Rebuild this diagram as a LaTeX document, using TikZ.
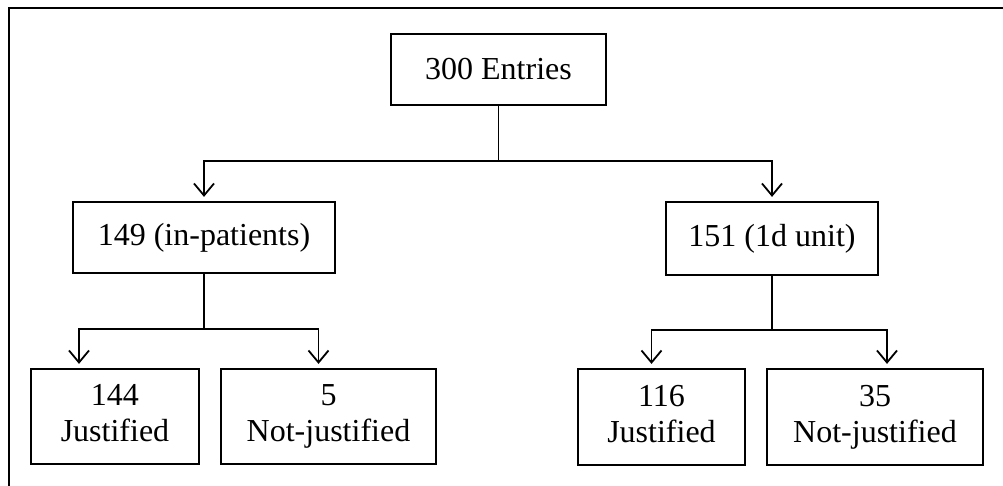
\documentclass[tikz,border=0pt]{standalone}
\usepackage{fontspec}
\setmainfont{Liberation Serif}
\usepackage{tikz}
\usetikzlibrary{arrows.meta}

\tikzset{
    box/.style={draw, line width=1.1pt, inner sep=0pt, align=center, font=\fontsize{16}{18}\selectfont},
    link/.style={line width=0.9pt, -{Straight Barb[length=6pt,width=10pt,line width=0.9pt]}, shorten >=2pt},
}

\begin{document}
\begin{tikzpicture}[x=0.5pt,y=0.5pt,yscale=-1,xscale=1]
    \useasboundingbox (0,0) rectangle (1003,486);

    %Frame
    \draw [line width=1.1pt] (9,486) -- (9,8) -- (1003,8) ;

    % Top node
    \node [box, minimum width=107.5pt, minimum height=35.5pt] (entries) at (498.5,69.5) {300 Entries};
    % Second row
    \node [box, minimum width=131pt, minimum height=35.5pt] (inpat) at (204,237.5) {149 (in-patients)};
    \node [box, minimum width=106pt, minimum height=36.5pt] (dayunit) at (772,238.5) {151 (1d unit)};
    % Third row
    \node [box, minimum width=84pt, minimum height=47.5pt] (inJust) at (115,416.5) {144\strut\\Justified\strut};
    \node [box, minimum width=107.5pt, minimum height=47.5pt] (inNot) at (328.5,416.5) {5\strut\\Not-justified\strut};
    \node [box, minimum width=83.5pt, minimum height=48pt] (dayJust) at (661.5,417) {116\strut\\Justified\strut};
    \node [box, minimum width=108pt, minimum height=48pt] (dayNot) at (875,417) {35\strut\\Not-justified\strut};

    %Connectors
    \draw [link] (entries.south) -- ++(0,55) -| (inpat.north) ;
    \draw [link] (entries.south) -- ++(0,55) -| (dayunit.north) ;
    \draw [link] (inpat.south) -- ++(0,55) -| ([xshift=-18pt]inJust.north) ;
    \draw [link] (inpat.south) -- ++(0,55) -| ([xshift=-5pt]inNot.north) ;
    \draw [link] (dayunit.south) -- ++(0,54) -| ([xshift=-5pt]dayJust.north) ;
    \draw [link] (dayunit.south) -- ++(0,54) -| ([xshift=6pt]dayNot.north) ;

\end{tikzpicture}
\end{document}
